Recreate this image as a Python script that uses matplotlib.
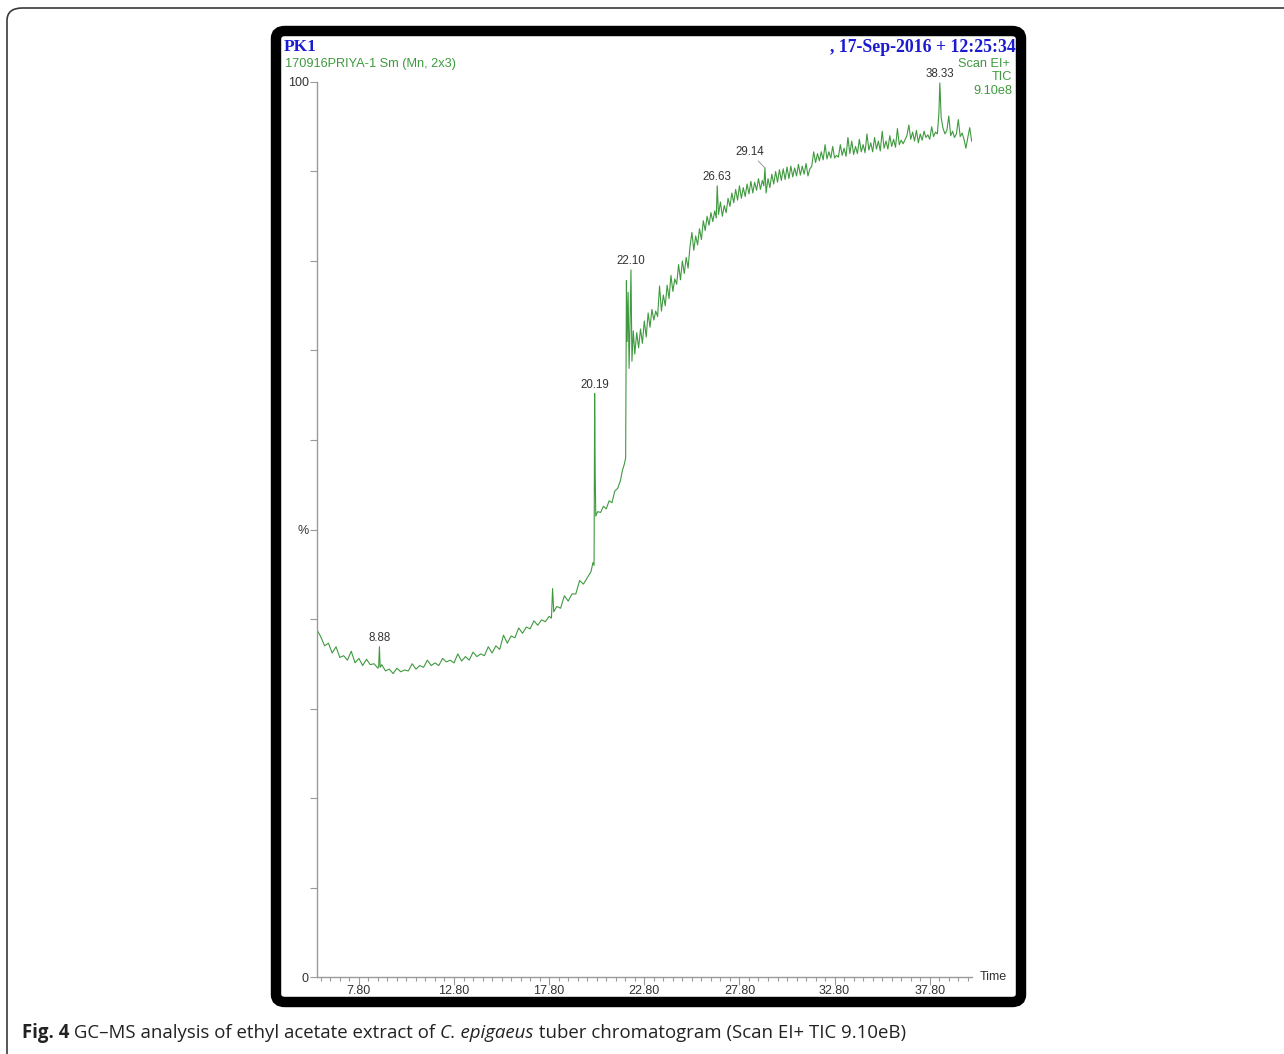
import matplotlib
matplotlib.use('Agg')
import matplotlib.pyplot as plt
from matplotlib.patches import FancyBboxPatch
import numpy as np

W, H = 1284, 1054

# retention time (min) and relative intensity (%)
rt = [5.6, 5.8, 6.0, 6.2, 6.4, 6.6, 6.8, 7.0, 7.2, 7.4, 7.6, 7.8, 8.0, 8.2, 8.4, 8.6, 8.8,
      8.84, 8.88, 8.92, 9.0, 9.2, 9.4, 9.6, 9.8, 10.0, 10.2, 10.4, 10.6, 10.8, 11.0, 11.2,
      11.4, 11.6, 11.8, 12.0, 12.2, 12.4, 12.6, 12.8, 13.0, 13.2, 13.4, 13.6, 13.8, 14.0,
      14.2, 14.4, 14.6, 14.8, 15.0, 15.2, 15.4, 15.6, 15.8, 16.0, 16.2, 16.4, 16.6, 16.8,
      17.0, 17.2, 17.4, 17.6, 17.8, 17.92, 17.98, 18.04, 18.2, 18.4, 18.6, 18.8, 19.0,
      19.2, 19.4, 19.6, 19.8, 20.0, 20.1, 20.16, 20.19, 20.22, 20.25, 20.35, 20.5, 20.65,
      20.8, 20.95, 21.1, 21.25, 21.4, 21.55, 21.65, 21.75, 21.82, 21.86, 21.9, 21.95, 22.0,
      22.05, 22.1, 22.15, 22.22, 22.3, 22.4, 22.5, 22.6, 22.7, 22.8, 22.9, 23.0, 23.1,
      23.2, 23.3, 23.4, 23.5, 23.6, 23.7, 23.8, 23.9, 24.0, 24.1, 24.2, 24.3, 24.4, 24.5,
      24.6, 24.7, 24.8, 24.9, 25.0, 25.1, 25.2, 25.3, 25.4, 25.5, 25.6, 25.7, 25.8, 25.9,
      26.0, 26.1, 26.2, 26.3, 26.4, 26.5, 26.58, 26.63, 26.7, 26.8, 26.9, 27.0, 27.1, 27.2,
      27.3, 27.4, 27.5, 27.6, 27.7, 27.8, 27.9, 28.0, 28.1, 28.2, 28.3, 28.4, 28.5, 28.6,
      28.7, 28.8, 28.9, 29.0, 29.08, 29.14, 29.2, 29.3, 29.4, 29.5, 29.6, 29.7, 29.8, 29.9,
      30.0, 30.1, 30.2, 30.3, 30.4, 30.5, 30.6, 30.7, 30.8, 30.9, 31.0, 31.1, 31.2, 31.3,
      31.4, 31.5, 31.6, 31.7, 31.8, 31.9, 32.0, 32.1, 32.2, 32.3, 32.4, 32.5, 32.6, 32.7,
      32.8, 32.9, 33.0, 33.1, 33.2, 33.3, 33.4, 33.5, 33.6, 33.7, 33.8, 33.9, 34.0, 34.1,
      34.2, 34.3, 34.4, 34.5, 34.6, 34.7, 34.8, 34.9, 35.0, 35.1, 35.2, 35.3, 35.4, 35.5,
      35.6, 35.7, 35.8, 35.9, 36.0, 36.1, 36.2, 36.3, 36.4, 36.6, 36.7, 36.8, 36.9, 37.0,
      37.1, 37.2, 37.3, 37.4, 37.5, 37.6, 37.7, 37.8, 37.9, 38.0, 38.1, 38.2, 38.28, 38.33,
      38.4, 38.5, 38.6, 38.7, 38.8, 38.9, 39.0, 39.1, 39.2, 39.3, 39.4, 39.5, 39.6, 39.7,
      39.8, 39.9, 40.0]

tic = [38.8, 38.0, 37.0, 37.3, 36.2, 36.9, 35.7, 35.9, 35.4, 36.4, 35.1, 35.6, 34.8, 35.5,
       34.9, 35.0, 34.5, 34.7, 36.9, 34.6, 34.9, 34.2, 34.4, 33.9, 34.5, 34.1, 34.3, 34.2,
       35.0, 34.4, 34.8, 34.6, 35.4, 34.8, 35.1, 34.8, 35.6, 35.2, 35.4, 35.1, 36.1, 35.3,
       35.8, 35.4, 36.3, 35.8, 36.1, 35.9, 36.9, 36.2, 37.0, 36.6, 38.2, 37.3, 38.1, 37.9,
       39.0, 38.4, 39.1, 38.9, 39.8, 39.3, 39.9, 39.7, 40.3, 40.1, 43.4, 40.8, 41.4, 41.2,
       42.6, 42.0, 42.8, 42.8, 44.3, 43.9, 44.6, 45.3, 46.3, 46.0, 65.2, 56.0, 51.5, 52.0,
       51.9, 52.6, 52.3, 53.2, 53.0, 54.3, 54.6, 55.5, 56.6, 57.3, 58.0, 77.8, 71.0, 76.5,
       68.0, 73.0, 79.0, 68.8, 72.2, 69.6, 72.0, 70.3, 72.4, 70.8, 73.3, 71.5, 74.2, 72.6,
       74.6, 73.4, 74.4, 73.8, 77.2, 74.4, 76.2, 75.0, 77.3, 75.8, 78.4, 76.6, 78.0, 77.4,
       79.6, 77.9, 80.0, 78.6, 80.4, 79.2, 81.6, 83.2, 81.2, 82.8, 81.8, 83.6, 82.4, 84.5,
       83.4, 85.0, 84.0, 85.4, 84.4, 85.6, 84.8, 88.4, 85.2, 86.6, 85.0, 86.2, 85.4, 87.0,
       86.1, 87.6, 86.5, 88.0, 86.8, 88.4, 87.0, 88.2, 87.2, 88.6, 87.5, 88.9, 87.6, 88.8,
       87.9, 89.2, 88.0, 89.0, 88.4, 90.4, 87.6, 89.2, 88.2, 89.7, 88.6, 90.0, 88.8, 90.2,
       89.0, 90.3, 89.1, 90.5, 89.2, 90.6, 89.4, 90.4, 89.5, 90.8, 89.6, 90.6, 89.7, 90.9,
       89.5, 90.3, 90.6, 92.2, 91.0, 92.0, 91.2, 92.2, 91.3, 93.0, 91.4, 92.2, 91.5, 92.8,
       91.5, 91.8, 91.6, 93.0, 91.8, 92.6, 91.7, 93.8, 92.0, 93.4, 91.9, 92.8, 92.0, 93.6,
       92.2, 93.0, 92.1, 94.2, 92.4, 93.2, 92.2, 93.8, 92.5, 93.4, 92.3, 94.5, 92.6, 93.4,
       92.5, 94.0, 92.8, 93.6, 92.7, 94.8, 93.0, 93.5, 93.1, 94.0, 95.2, 93.6, 94.4, 93.4,
       94.6, 93.2, 94.2, 93.5, 94.5, 93.8, 94.1, 93.6, 95.0, 93.9, 94.4, 94.2, 96.5, 99.9,
       96.0, 94.8, 94.2, 94.6, 96.2, 94.0, 94.5, 93.8, 94.2, 95.8, 93.9, 94.3, 93.6, 92.6,
       93.8, 94.9, 93.4]

peak_rt = [8.88, 20.19, 22.10, 26.63, 29.14, 38.33]
peak_pct = [36.9, 65.2, 79.0, 88.4, 90.4, 99.9]

xticks_major = [7.80, 12.80, 17.80, 22.80, 27.80, 32.80, 37.80]

green = '#3f9a3f'
blue = '#1a1ad0'
axis_gray = '#9a9a9a'
txt_gray = '#333333'

plt.rcParams['font.family'] = ['Liberation Sans', 'DejaVu Sans']

fig = plt.figure(figsize=(W / 100, H / 100), dpi=100)


def fx(x):
    return x / W


def fy(y):
    return 1 - y / H


# outer page box (runs off the right and bottom edge)
outer = FancyBboxPatch((fx(7), fy(1070)), fx(1300 - 7), fy(8) - fy(1070),
                       boxstyle='round,pad=0,rounding_size=0.012',
                       transform=fig.transFigure, fill=False,
                       edgecolor='#3a3a3a', linewidth=1.2)
fig.patches.append(outer)

# thick black frame around the chromatogram
frame = FancyBboxPatch((fx(276), fy(1002)), fx(1021 - 276), fy(31) - fy(1002),
                       boxstyle='round,pad=0,rounding_size=0.007',
                       transform=fig.transFigure, fill=False,
                       edgecolor='black', linewidth=7.5)
fig.patches.append(frame)

ax = fig.add_axes([fx(317), fy(977), fx(972 - 317), fy(82) - fy(977)])
ax.plot(rt, tic, color=green, linewidth=0.8)
ax.set_xlim(5.6, 40.02)
ax.set_ylim(0, 100)

for s in ['top', 'right']:
    ax.spines[s].set_visible(False)
for s in ['left', 'bottom']:
    ax.spines[s].set_color(axis_gray)
    ax.spines[s].set_linewidth(1.0)

ax.set_yticks(np.arange(0, 101, 10))
ax.set_yticklabels(['0', '', '', '', '', '%', '', '', '', '', '100'])
ax.tick_params(axis='y', direction='out', length=5, width=0.8, color=axis_gray,
               labelsize=9, labelcolor=txt_gray, pad=1)

ax.set_xticks(xticks_major)
ax.set_xticklabels(['%.2f' % v for v in xticks_major])
ax.set_xticks(np.arange(5.80, 40.0, 0.5), minor=True)
ax.tick_params(axis='x', which='major', direction='out', length=6, width=0.8,
               color=axis_gray, labelsize=9, labelcolor=txt_gray, pad=0)
ax.tick_params(axis='x', which='minor', direction='out', length=3, width=0.8,
               color=axis_gray)

for t, v in zip(peak_rt, peak_pct):
    if t == 29.14:
        ax.annotate('%.2f' % t, xy=(t, v), xytext=(-11, 7), textcoords='offset points',
                    ha='center', va='bottom', fontsize=8.3, color=txt_gray,
                    arrowprops=dict(arrowstyle='-', color=axis_gray, lw=0.7,
                                    shrinkA=0, shrinkB=0))
    else:
        ax.annotate('%.2f' % t, xy=(t, v), xytext=(0, 2), textcoords='offset points',
                    ha='center', va='bottom', fontsize=8.3, color=txt_gray)

fig.text(fx(980), fy(977), 'Time', ha='left', va='center', fontsize=9, color=txt_gray)

# header
fig.text(fx(284), fy(47), 'PK1', ha='left', va='center', fontsize=12.5,
         fontweight='bold', family='Liberation Serif', color=blue)
fig.text(fx(1016), fy(47), ', 17-Sep-2016 + 12:25:34', ha='right', va='center',
         fontsize=12.8, fontweight='bold', family='Liberation Serif', color=blue)
fig.text(fx(285), fy(64), '170916PRIYA-1 Sm (Mn, 2x3)', ha='left', va='center',
         fontsize=9.2, color=green)
fig.text(fx(1010), fy(64), 'Scan EI+', ha='right', va='center', fontsize=9.2, color=green)
fig.text(fx(1012), fy(77), 'TIC', ha='right', va='center', fontsize=9.2, color=green)
fig.text(fx(1012), fy(91), '9.10e8', ha='right', va='center', fontsize=9.2, color=green)

# caption, built piece by piece and sized to span the same width as the original
renderer = fig.canvas.get_renderer()
pieces = [('Fig. 4', 'bold', 'normal'),
          (' GC\u2013MS analysis of ethyl acetate extract of ', 'normal', 'normal'),
          ('C. epigaeus', 'normal', 'italic'),
          (' tuber chromatogram (Scan EI+ TIC 9.10eB)', 'normal', 'normal')]


def caption_width(size):
    total = 0
    for s, wgt, sty in pieces:
        t = fig.text(0, 0, s, fontsize=size, family='Open Sans', fontweight=wgt,
                     fontstyle=sty)
        total += t.get_window_extent(renderer).width
        t.remove()
    return total


cap_size = 11 * 885 / caption_width(11)
x0 = 22
for s, wgt, sty in pieces:
    t = fig.text(fx(x0), fy(1033), s, ha='left', va='center', fontsize=cap_size,
                 family='Open Sans', fontweight=wgt, fontstyle=sty, color='#222222')
    x0 += t.get_window_extent(renderer).width

fig.savefig('out.png', dpi=100)
